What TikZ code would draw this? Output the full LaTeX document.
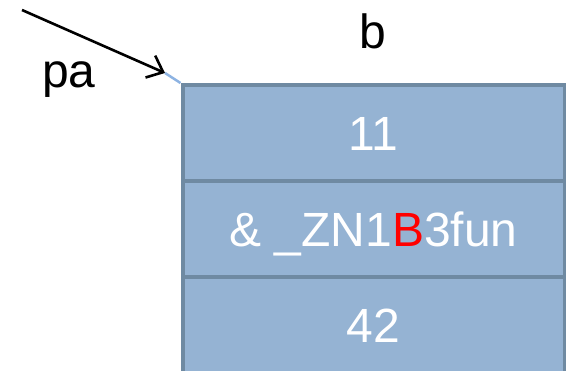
\documentclass[tikz,border=0pt]{standalone}
\usepackage{fontspec}
\setmainfont{Liberation Sans}
\usetikzlibrary{arrows.meta}
\definecolor{cellfill}{HTML}{95B3D3}
\definecolor{celledge}{HTML}{6F8AA2}
\definecolor{linkblue}{HTML}{8DB3E2}
\begin{document}
\begin{tikzpicture}[x=1pt,y=-1pt,
  cell/.style={rectangle, draw=celledge, fill=cellfill, line width=4pt,
    minimum width=382pt, minimum height=96pt, inner sep=0pt,
    text=white, text height=36pt, text depth=0pt,
    font=\fontsize{48}{58}\selectfont},
  lbl/.style={inner sep=0pt, anchor=base, font=\fontsize{48}{58}\selectfont}]
\useasboundingbox (0,0) rectangle (566,371);
\node[cell] (cell3) at (373.5,325) {42};
\node[cell] (cell2) at (373.5,229) {\& \_ZN1{\color{red}B}3fun};
\node[cell] (cell1) at (373.5,133) {11};
\node[lbl] (b) at (373,49) {b};
\node[lbl] (pa) at (69,88) {pa};
\coordinate (start) at (22,10);
\coordinate (tip) at (165,73);
\draw[line width=2.6pt, -{Straight Barb[length=14pt,width=24pt,line width=2.6pt]}] (start) -- (tip);
\draw[linkblue, line width=2.5pt] (tip) -- (cell1.north west);
\end{tikzpicture}
\end{document}
